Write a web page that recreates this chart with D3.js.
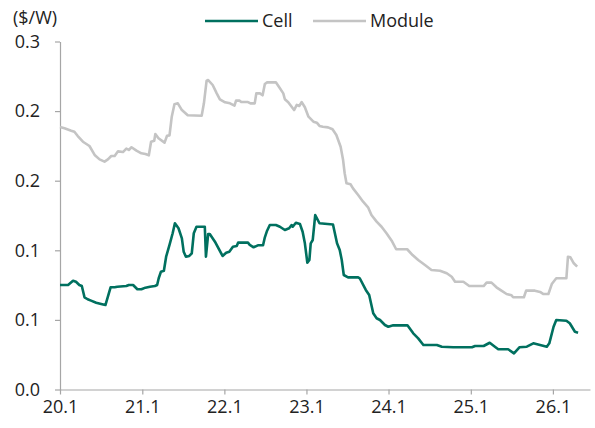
<!DOCTYPE html>
<html>
<head>
<meta charset="utf-8">
<script src="https://cdn.jsdelivr.net/npm/d3@7"></script>
<style>
  body { margin: 0; background: #fff; }
  text { font-family: "Open Sans", "Noto Sans", sans-serif; fill: #222; }
</style>
</head>
<body>
<div id="chartDiv"></div>
<script>
//--------------------------------------------------------------------------------
// values ($/W)
var cellDates = ["2020-01-01","2020-02-06","2020-02-28","2020-03-12","2020-03-27","2020-04-07","2020-04-19",
  "2020-05-03","2020-05-18","2020-06-10","2020-07-02","2020-07-21","2020-08-01","2020-08-13","2020-08-31",
  "2020-09-12","2020-10-22","2020-11-02","2020-11-21","2020-12-10","2020-12-28","2021-01-15","2021-02-04",
  "2021-02-26","2021-03-08","2021-03-15","2021-03-25","2021-04-07","2021-04-17","2021-05-02","2021-05-16",
  "2021-05-26","2021-06-11","2021-06-26","2021-07-04","2021-07-14","2021-07-29","2021-08-09","2021-08-18",
  "2021-08-30","2021-10-06","2021-10-11","2021-10-21","2021-10-28","2021-11-20","2021-12-24","2022-01-09",
  "2022-01-23","2022-02-08","2022-02-25","2022-03-03","2022-04-16","2022-04-24","2022-05-11","2022-05-30",
  "2022-06-22","2022-06-30","2022-07-10","2022-07-22","2022-08-18","2022-09-05","2022-09-27","2022-10-16",
  "2022-10-27","2022-11-01","2022-11-15","2022-12-03","2022-12-15","2022-12-25","2023-01-05","2023-01-14",
  "2023-01-20","2023-01-29","2023-02-09","2023-02-28","2023-04-29","2023-05-17","2023-05-29","2023-06-07",
  "2023-06-16","2023-07-05","2023-08-19","2023-08-26","2023-09-22","2023-10-07","2023-10-25","2023-11-09",
  "2023-11-24","2023-12-16","2023-12-31","2024-01-22","2024-03-25","2024-04-20","2024-05-12","2024-06-04",
  "2024-08-03","2024-08-25","2024-10-15","2025-01-06","2025-01-20","2025-02-27","2025-03-26","2025-04-18",
  "2025-05-03","2025-06-16","2025-07-12","2025-08-05","2025-09-07","2025-10-06","2025-11-05","2025-12-05",
  "2025-12-16","2026-01-04","2026-01-16","2026-03-02","2026-03-17","2026-04-09","2026-04-23"];
var cellValues = [0.0901,0.0901,0.0938,0.0929,0.0901,0.0892,0.0795,
  0.0778,0.0766,0.0748,0.0737,0.0728,0.0800,0.0881,0.0881,
  0.0886,0.0892,0.0901,0.0901,0.0864,0.0864,0.0878,0.0886,
  0.0892,0.0901,0.0959,0.1016,0.1024,0.1145,0.1246,0.1347,
  0.1433,0.1390,0.1303,0.1188,0.1145,0.1151,0.1174,0.1347,
  0.1403,0.1403,0.1145,0.1341,0.1341,0.1274,0.1151,0.1179,
  0.1188,0.1231,0.1237,0.1266,0.1266,0.1246,0.1226,0.1243,
  0.1243,0.1312,0.1369,0.1418,0.1418,0.1403,0.1375,0.1390,
  0.1418,0.1403,0.1438,0.1427,0.1360,0.1260,0.1093,0.1116,
  0.1260,0.1289,0.1504,0.1433,0.1422,0.1260,0.1203,0.1116,
  0.0987,0.0967,0.0967,0.0959,0.0858,0.0815,0.0657,0.0614,
  0.0599,0.0556,0.0541,0.0553,0.0553,0.0484,0.0441,0.0384,
  0.0384,0.0369,0.0364,0.0364,0.0375,0.0375,0.0403,0.0369,
  0.0347,0.0347,0.0312,0.0364,0.0369,0.0398,0.0384,0.0369,
  0.0398,0.0541,0.0599,0.0593,0.0571,0.0498,0.0490];

var moduleDates = ["2020-01-01","2020-01-21","2020-02-20","2020-03-05","2020-03-20","2020-04-12","2020-05-11",
  "2020-06-03","2020-06-25","2020-07-17","2020-08-01","2020-08-16","2020-08-31","2020-09-15","2020-10-07",
  "2020-10-22","2020-11-02","2020-11-14","2020-12-06","2020-12-28","2021-01-15","2021-01-30","2021-02-09",
  "2021-02-23","2021-02-28","2021-03-14","2021-04-10","2021-04-21","2021-05-02","2021-05-12","2021-05-24",
  "2021-06-08","2021-06-26","2021-07-22","2021-09-22","2021-10-02","2021-10-14","2021-10-21","2021-11-10",
  "2021-11-28","2021-12-12","2022-01-04","2022-01-26","2022-02-15","2022-02-22","2022-03-10","2022-03-17",
  "2022-04-16","2022-04-27","2022-05-16","2022-05-23","2022-06-08","2022-06-20","2022-06-30","2022-07-10",
  "2022-08-18","2022-09-05","2022-09-20","2022-09-27","2022-10-12","2022-11-07","2022-11-19","2022-11-30",
  "2022-12-11","2022-12-25","2023-01-10","2023-02-01","2023-02-16","2023-02-28","2023-03-15","2023-04-07",
  "2023-04-27","2023-05-14","2023-06-02","2023-06-13","2023-06-20","2023-06-28","2023-07-16","2023-07-27",
  "2023-08-19","2023-09-10","2023-10-02","2023-10-17","2023-11-09","2023-12-01","2023-12-23","2024-01-15",
  "2024-02-04","2024-03-24","2024-04-17","2024-05-12","2024-06-11","2024-07-10","2024-08-17","2024-09-16",
  "2024-10-08","2024-10-23","2024-11-29","2024-12-25","2025-02-27","2025-03-12","2025-04-03","2025-04-25",
  "2025-05-17","2025-06-09","2025-07-01","2025-07-08","2025-08-25","2025-09-04","2025-10-13","2025-11-05",
  "2025-11-20","2025-12-12","2025-12-27","2026-01-16","2026-03-02","2026-03-09","2026-03-20","2026-04-04",
  "2026-04-19"];
var moduleValues = [0.2263,0.2252,0.2231,0.2222,0.2185,0.2136,0.2099,
  0.2022,0.1984,0.1964,0.1984,0.2013,0.2013,0.2053,0.2047,
  0.2076,0.2065,0.2088,0.2059,0.2036,0.2030,0.2019,0.2136,
  0.2145,0.2203,0.2166,0.2128,0.2188,0.2191,0.2352,0.2459,
  0.2467,0.2409,0.2364,0.2360,0.2467,0.2662,0.2668,0.2625,
  0.2553,0.2502,0.2476,0.2467,0.2447,0.2490,0.2490,0.2478,
  0.2478,0.2467,0.2467,0.2553,0.2553,0.2536,0.2634,0.2648,
  0.2648,0.2597,0.2553,0.2502,0.2476,0.2409,0.2453,0.2444,
  0.2478,0.2433,0.2352,0.2309,0.2300,0.2272,0.2265,0.2260,
  0.2243,0.2194,0.2093,0.1978,0.1864,0.1778,0.1769,0.1734,
  0.1677,0.1619,0.1571,0.1504,0.1447,0.1403,0.1347,0.1283,
  0.1209,0.1209,0.1159,0.1116,0.1073,0.1030,0.1024,0.1002,
  0.0972,0.0929,0.0929,0.0892,0.0892,0.0921,0.0921,0.0881,
  0.0852,0.0823,0.0812,0.0795,0.0795,0.0852,0.0852,0.0841,
  0.0823,0.0823,0.0909,0.0959,0.0959,0.1145,0.1140,0.1088,
  0.1059];

var yTickValues = [0, 0.06, 0.12, 0.18, 0.24, 0.3];
var xTickYears = [2020, 2021, 2022, 2023, 2024, 2025, 2026];
var seriesNames = ["Cell", "Module"];
var seriesColors = ["#00705f", "#c4c4c4"];
//--------------------------------------------------------------------------------
var chartWidth = 595, chartHeight = 428;
var plotLeft = 60, plotRight = 590, plotTop = 41.5, plotBottom = 389.5;

var parseDate = d3.timeParse("%Y-%m-%d");

var svg = d3.select("#chartDiv").append("svg")
    .attr("width", chartWidth)
    .attr("height", chartHeight);

var xScale = d3.scaleTime()
    .domain([new Date(2020, 0, 1), new Date(2026, 5, 15)])
    .range([plotLeft, plotRight]);

var yScale = d3.scaleLinear()
    .domain([0, 0.3])
    .range([plotBottom, plotTop]);

var xAxis = d3.axisBottom(xScale)
    .tickValues(xTickYears.map(function(y){ return new Date(y, 0, 1); }))
    .tickFormat(d3.timeFormat("%y.%-m"))
    .tickSize(5)
    .tickPadding(6)
    .tickSizeOuter(0);

var yAxis = d3.axisLeft(yScale)
    .tickValues(yTickValues)
    .tickFormat(d3.format(".1f"))
    .tickSize(5)
    .tickPadding(15)
    .tickSizeOuter(0);

function styleAxis(g) {
   g.select(".domain").attr("stroke", "#a6a6a6").attr("stroke-width", 1.2);
   g.selectAll(".tick line").attr("stroke", "#a6a6a6").attr("stroke-width", 1.2);
   g.selectAll(".tick text")
      .style("font-family", '"Open Sans", "Noto Sans", sans-serif')
      .style("font-size", "18px")
      .attr("fill", "#222");
}

svg.append("g")
   .attr("transform", "translate(0," + plotBottom + ")")
   .call(xAxis)
   .call(styleAxis);

svg.append("g")
   .attr("transform", "translate(" + plotLeft + ",0)")
   .call(yAxis)
   .call(styleAxis);

   // the two series, module drawn first so cell sits on top
var line = d3.line()
    .x(function(d){ return xScale(d.date); })
    .y(function(d){ return yScale(d.value); });

function buildSeries(dates, values) {
   return dates.map(function(d, i){ return {date: parseDate(d), value: values[i]}; });
}

var seriesData = [
   {color: seriesColors[1], points: buildSeries(moduleDates, moduleValues)},
   {color: seriesColors[0], points: buildSeries(cellDates, cellValues)}
];

svg.selectAll("path.series")
   .data(seriesData)
   .enter()
   .append("path")
   .attr("class", "series")
   .attr("fill", "none")
   .attr("stroke", function(d){ return d.color; })
   .attr("stroke-width", 2.6)
   .attr("stroke-linejoin", "round")
   .attr("d", function(d){ return line(d.points); });

   // unit label
svg.append("text")
   .attr("x", 13)
   .attr("y", 24)
   .style("font-size", "18px")
   .text("($/W)");

   // legend
var legendX = [205, 313];
var legend = svg.selectAll("g.legend")
   .data(seriesNames)
   .enter()
   .append("g")
   .attr("class", "legend")
   .attr("transform", function(d, i){ return "translate(" + legendX[i] + ",21)"; });

legend.append("line")
   .attr("x1", 0).attr("x2", 53)
   .attr("y1", 0).attr("y2", 0)
   .attr("stroke", function(d, i){ return seriesColors[i]; })
   .attr("stroke-width", 2.6);

legend.append("text")
   .attr("x", 57)
   .attr("y", 6)
   .style("font-size", "18px")
   .text(function(d){ return d; });
</script>
</body>
</html>
